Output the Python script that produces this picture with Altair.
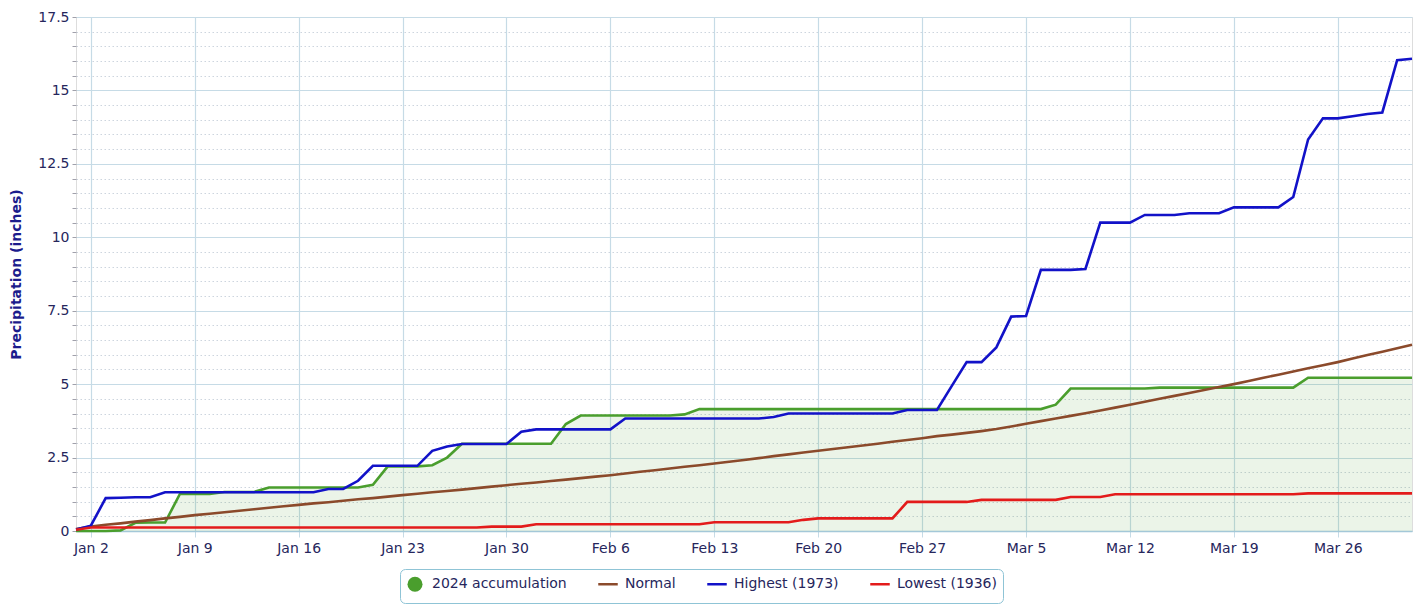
import altair as alt
import pandas as pd

FONT = "DejaVu Sans"

# ---- data (cumulative precipitation, inches), Jan 1 .. Mar 31, 2024 ----
dates = pd.date_range("2024-01-01", "2024-03-31", freq="D")

green_2024 = (
    [0.0, 0.0, 0.0, 0.02]
    + [0.28, 0.29, 0.29]
    + [1.26, 1.26, 1.26]
    + [1.33, 1.33, 1.33]
    + [1.48] * 7
    + [1.57]
    + [2.20, 2.20, 2.20]
    + [2.24]
    + [2.50]
    + [2.97] * 7
    + [3.64]
    + [3.93] * 7
    + [3.97]
    + [4.15] * 24
    + [4.30]
    + [4.85] * 6
    + [4.88] * 10
    + [5.22] * 8
)

normal = [
    0.07, 0.15, 0.21, 0.26, 0.32, 0.37, 0.43, 0.48, 0.54, 0.59, 0.64, 0.69, 0.74, 0.79, 0.84, 0.89,
    0.94, 0.98, 1.03, 1.08, 1.12, 1.17, 1.22, 1.27, 1.32, 1.36, 1.41, 1.46, 1.51, 1.56, 1.61,
    1.65, 1.70, 1.75, 1.80, 1.85, 1.90, 1.96, 2.02, 2.07, 2.13, 2.19, 2.24, 2.30, 2.36, 2.42,
    2.48, 2.55, 2.61, 2.67, 2.73, 2.79, 2.85, 2.91, 2.97, 3.04, 3.10, 3.16, 3.23, 3.28,
    3.34, 3.40, 3.47, 3.56, 3.65, 3.74, 3.83, 3.92, 4.01, 4.10, 4.20, 4.30, 4.40, 4.50, 4.60,
    4.70, 4.80, 4.90, 5.00, 5.11, 5.22, 5.32, 5.43, 5.54, 5.64, 5.75, 5.87, 5.99, 6.10, 6.22, 6.34,
]

highest_1973 = (
    [0.05, 0.18, 1.12, 1.13, 1.15, 1.15]
    + [1.32] * 11
    + [1.43] * 2
    + [1.71]
    + [2.22] * 4
    + [2.73]
    + [2.88]
    + [2.96] * 4
    + [3.38]
    + [3.46] * 6
    + [3.83] * 10
    + [3.88]
    + [4.00] * 8
    + [4.12] * 3
    + [4.94]
    + [5.75] * 2
    + [6.25]
    + [7.30]
    + [7.32]
    + [8.89] * 3
    + [8.92]
    + [10.50] * 3
    + [10.76] * 3
    + [10.82] * 3
    + [11.02] * 4
    + [11.37]
    + [13.33]
    + [14.05] * 2
    + [14.12]
    + [14.20]
    + [14.25]
    + [16.03]
    + [16.08]
)

lowest_1936 = (
    [0.04]
    + [0.12] * 27
    + [0.15] * 3
    + [0.23] * 12
    + [0.30] * 6
    + [0.38]
    + [0.43] * 6
    + [0.99] * 5
    + [1.06] * 6
    + [1.16] * 3
    + [1.25] * 13
    + [1.28] * 8
)

series_names = ["2024 accumulation", "Normal", "Highest (1973)", "Lowest (1936)"]
series_colors = ["#4a9e2d", "#8b4a2b", "#1212c8", "#e31b1b"]
legend_strokes = ["transparent", "#8b4a2b", "#1212c8", "#e31b1b"]
# horizontal dash that keeps the same vertical extent as the circle (invisible moves)
LINE_SYMBOL = "M-1.3,0L1.3,0M0,-1M0,1"
series_shapes = ["circle", LINE_SYMBOL, LINE_SYMBOL, LINE_SYMBOL]
series_values = [green_2024, normal, highest_1973, lowest_1936]

x_tick_dates = ["2024-01-02", "2024-01-09", "2024-01-16", "2024-01-23", "2024-01-30",
                "2024-02-06", "2024-02-13", "2024-02-20", "2024-02-27", "2024-03-05",
                "2024-03-12", "2024-03-19", "2024-03-26"]

# ---- build table ----
def to_ms(ts):
    return int(pd.Timestamp(ts, tz="UTC").value // 10**6)

date_ms = [to_ms(d.strftime("%Y-%m-%d")) for d in dates]
rows = []
for name, vals in zip(series_names, series_values):
    for t, v in zip(date_ms, vals):
        rows.append({"date": t, "series": name, "value": v})
df = pd.DataFrame(rows)

x_ticks_ms = [to_ms(d) for d in x_tick_dates]
y_ticks = [i * 0.5 for i in range(36)]

label_color = "#26265c"
grid_color = "#c6dbe6"

x_enc = alt.X(
    "date:T",
    scale=alt.Scale(type="utc", domain=[date_ms[0], date_ms[-1]], nice=False),
    axis=alt.Axis(
        title=None,
        values=x_ticks_ms,
        labelExpr="utcFormat(datum.value, '%b %-d')",
        labelFont=FONT, labelFontSize=14, labelColor=label_color,
        labelPadding=4, tickSize=6, tickColor=grid_color,
        grid=True, gridColor=grid_color, gridWidth=1.2,
        domainColor="#a3c8d8", domainWidth=1.5,
        labelOverlap=False,
    ),
)

y_enc = alt.Y(
    "value:Q",
    scale=alt.Scale(domain=[0, 17.5], nice=False, zero=True),
    axis=alt.Axis(
        title="Precipitation (inches)",
        titleFont=FONT, titleFontSize=14, titleFontWeight="bold", titleColor="#1c1c8c",
        titlePadding=14,
        values=y_ticks,
        labelExpr="datum.value % 2.5 === 0 ? toString(datum.value) : ''",
        labelFont=FONT, labelFontSize=14, labelColor=label_color, labelPadding=3,
        tickSize=4, tickColor="#a0a0aa",
        grid=True,
        gridColor={"condition": {"test": "datum.value % 2.5 === 0", "value": grid_color}, "value": "#cdd5de"},
        gridWidth={"condition": {"test": "datum.value % 2.5 === 0", "value": 1.2}, "value": 1},
        gridDash={"condition": {"test": "datum.value % 2.5 === 0", "value": []}, "value": [1.5, 2.5]},
        domain=False,
        labelOverlap=False,
    ),
)

legend = alt.Legend(
    orient="none", legendX=324, legendY=552, direction="horizontal", title=None,
    labelFont=FONT, labelFontSize=14, labelColor=label_color,
    symbolSize=225, symbolStrokeWidth=2.5, symbolOpacity=1,
    columnPadding=26, labelOffset=8, padding=6,
    strokeColor="#8fc4d6", cornerRadius=5, fillColor="white",
)

base = alt.Chart(df)

area = base.transform_filter(alt.datum.series == series_names[0]).mark_area(
    color=series_colors[0], opacity=0.11
).encode(x=x_enc, y=y_enc)

layers = [area]
for name, col in zip(series_names, series_colors):
    layers.append(
        base.transform_filter(alt.datum.series == name)
        .mark_line(strokeWidth=2.6, color=col)
        .encode(x=x_enc, y=y_enc)
    )

# empty point layer that only carries the legend
legend_layer = base.transform_filter("false").mark_point(filled=True, strokeWidth=2.5).encode(
    x=x_enc, y=y_enc,
    color=alt.Color("series:N", scale=alt.Scale(domain=series_names, range=series_colors), legend=legend),
    stroke=alt.Stroke("series:N", scale=alt.Scale(domain=series_names, range=legend_strokes), legend=legend),
    shape=alt.Shape("series:N", scale=alt.Scale(domain=series_names, range=series_shapes), legend=legend),
)
layers.append(legend_layer)

chart = alt.layer(*layers).properties(
    width=1336, height=514,
    autosize=alt.AutoSizeParams(type="none"),
    padding={"left": 68, "top": 9, "right": 4, "bottom": 73},
).configure_view(stroke=None).configure(background="white")

chart.save("out.html", embed_options={"renderer": "svg", "actions": False})
